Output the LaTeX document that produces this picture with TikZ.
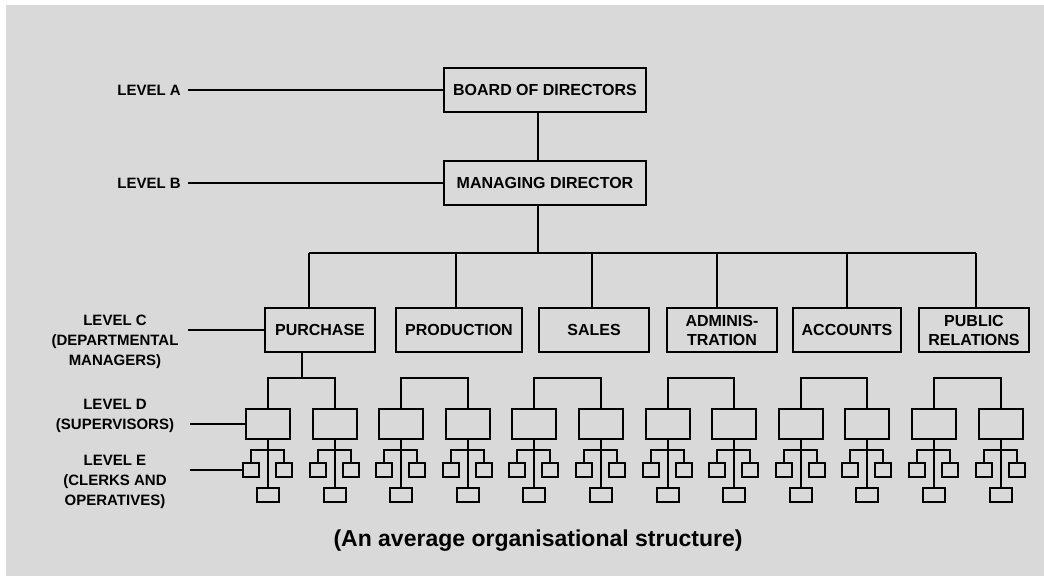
\documentclass[tikz,border=0pt]{standalone}
\usepackage{fontspec}
\setmainfont{Liberation Sans}
\usetikzlibrary{calc}
\definecolor{paper}{HTML}{D9D9D9}
\tikzset{%
	block/.style  = {draw, rectangle, line width=2pt, inner sep=0pt, align=center, font=\bfseries\fontsize{16}{19}\selectfont},
	level/.style  = {inner sep=0pt, align=center, font=\bfseries\fontsize{15}{20}\selectfont},
	super/.style  = {draw, rectangle, line width=2pt, minimum width=44pt, minimum height=30pt, inner sep=0pt},
	clerk/.style  = {draw, rectangle, line width=2pt, minimum width=16pt, minimum height=14pt, inner sep=0pt},
	desk/.style   = {clerk, minimum width=22pt},
	link/.style   = {line width=2pt},
}

\begin{document}
\begin{tikzpicture}[x=1pt, y=-1pt]
	\fill[white] (0,0) rectangle (1044,576);
	\fill[paper] (6,5) rectangle (1044,576);
	\useasboundingbox (0,0) rectangle (1044,576);

	% top of the tree
	\node[block, minimum width=202pt, minimum height=44pt] (board) at (545,90) {BOARD OF DIRECTORS};
	\node[block, minimum width=202pt, minimum height=44pt] (md) at (545,183) {MANAGING DIRECTOR};
	\coordinate (trunk) at (538,253);
	\draw[link] (board.south -| trunk) -- (md.north -| trunk);
	\draw[link] (md.south -| trunk) -- (trunk);

	% departments
	\foreach \n/\x/\w/\d/\t in {purchase/320/110/309/{PURCHASE},
		production/459/126/456/{PRODUCTION},
		sales/594/110/592/{SALES},
		admin/722/110/717/{ADMINIS-\\TRATION},
		accounts/847/108/847/{ACCOUNTS},
		public/974/110/976/{PUBLIC\\RELATIONS}} {
		\node[block, minimum width=\w pt, minimum height=44pt] (\n) at (\x,330) {\t};
		\coordinate (\n-top) at (\d,253);
		\draw[link] (\n-top) -- (\n-top |- \n.north);
	}
	\draw[link] (purchase-top) -- (public-top);

	% supervisors and clerks
	\foreach \i [evaluate=\i as \sx using {round(268+66.6*\i)}] in {0,...,11} {
		\node[super] (s\i) at (\sx,424) {};
		\node[clerk] (cl\i) at ($(s\i)+(-17,46)$) {};
		\node[clerk] (cr\i) at ($(s\i)+(16,46)$) {};
		\node[desk] (cb\i) at ($(s\i)+(0,71)$) {};
		\draw[link] (s\i.south) -- (cb\i.north);
		\draw[link] (cl\i.north) -- ++(0,-12) -| (cr\i.north);
	}
	\foreach \k [evaluate=\k as \a using int(2*\k), evaluate=\k as \b using int(2*\k+1)] in {0,...,5}
		\draw[link] (s\a.north) -- ++(0,-30) -| (s\b.north);
	\coordinate (pj) at ($(s0.north)!0.5!(s1.north)+(0,-30)$);
	\draw[link] (pj |- purchase.south) -- (pj);

	% level labels
	\node[level, anchor=east] (la) at (181,90) {LEVEL A};
	\node[level, anchor=east] (lb) at (181,183) {LEVEL B};
	\node[level] (lc) at (115,342) {LEVEL C\\(DEPARTMENTAL\\MANAGERS)};
	\node[level] (ld) at (115,416) {LEVEL D\\(SUPERVISORS)};
	\node[level] (le) at (115,482) {LEVEL E\\(CLERKS AND\\OPERATIVES)};
	\coordinate (tc) at (188,330);
	\coordinate (td) at (190,424);
	\coordinate (te) at (190,470);
	\draw[link] ($(la.east)+(7,0)$) -- (board.west);
	\draw[link] ($(lb.east)+(7,0)$) -- (md.west);
	\draw[link] (tc) -- (purchase.west);
	\draw[link] (td) -- (s0.west);
	\draw[link] (te) -- (cl0.west);

	\node[font=\bfseries\fontsize{23}{27}\selectfont] (caption) at (538,541) {(An average organisational structure)};
\end{tikzpicture}
\end{document}
